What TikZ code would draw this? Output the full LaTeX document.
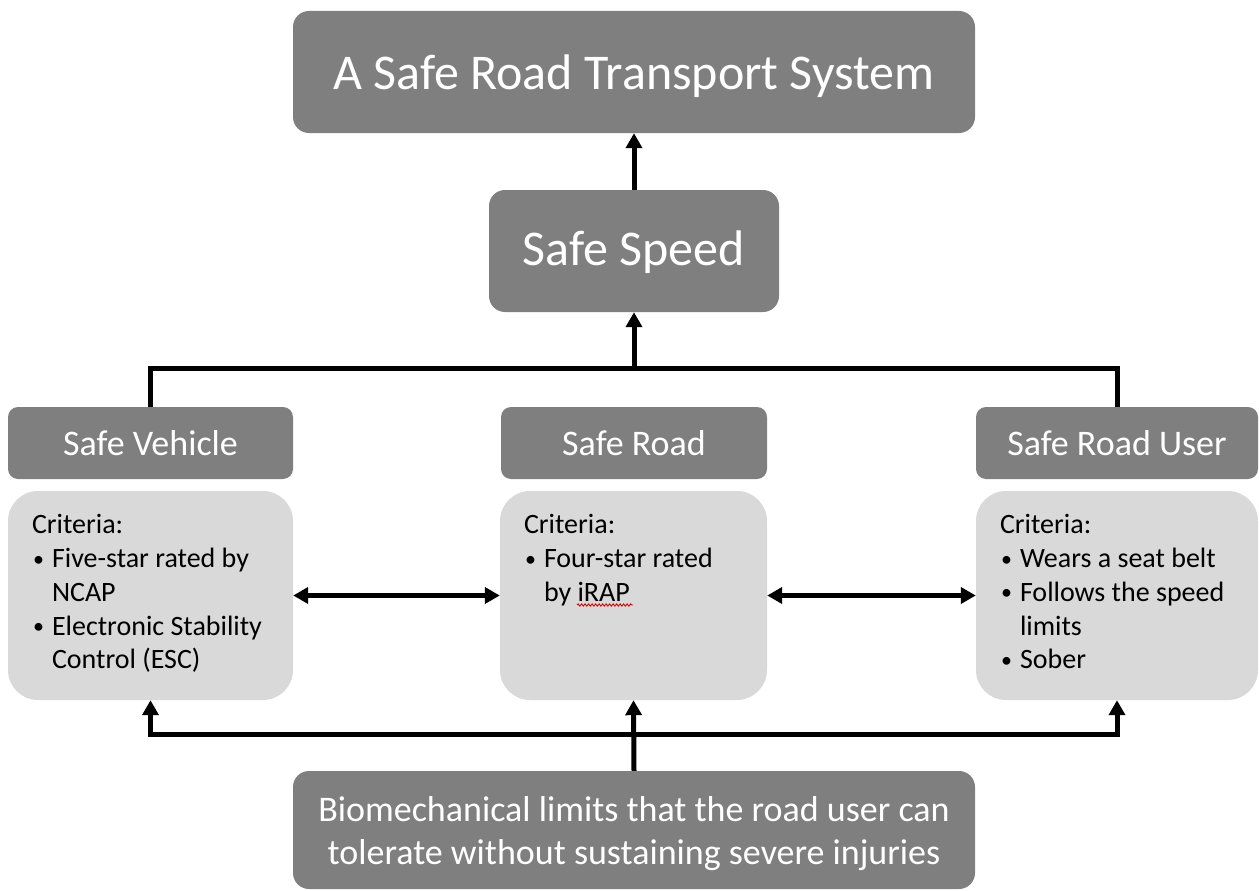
\documentclass[tikz,border=0pt]{standalone}
\usepackage{fontspec}
\setmainfont{Carlito}
\usetikzlibrary{arrows.meta,decorations.pathmorphing}
\definecolor{dk}{HTML}{7F7F7F}
\definecolor{lt}{HTML}{D9D9D9}
\newcommand{\bul}{\makebox[20pt][l]{\hspace*{1pt}\raisebox{1.5pt}{\fontsize{22}{22}\selectfont •}}}
\begin{document}
\begin{tikzpicture}[x=1pt,y=-1pt,
  bigbox/.style={fill=dk,draw=none,text=white,rounded corners=16pt,inner sep=0pt,align=center,font=\fontsize{50}{60}\selectfont},
  hdrbox/.style={fill=dk,draw=none,text=white,rounded corners=10pt,inner sep=0pt,minimum height=72pt,font=\fontsize{36}{43}\selectfont},
  critbox/.style={fill=lt,draw=none,rounded corners=30pt,inner sep=0pt,minimum height=209pt},
  crittext/.style={anchor=north west,inner sep=0pt,align=left,text=black,font=\fontsize{28}{33.7}\selectfont,xshift=24pt,yshift=-19.4pt},
  conn/.style={line width=5pt,draw=black},
  arr/.style={conn,-{Triangle[width=16pt,length=15pt]}},
  darr/.style={conn,{Triangle[width=16pt,length=15pt]}-{Triangle[width=16pt,length=15pt]}},
  squig/.style={draw=red!85!black,line width=0.9pt,decorate,decoration={snake,amplitude=1.1pt,segment length=3.5pt}}
]
\useasboundingbox (0,0) rectangle (1259,891);

\node[bigbox,minimum width=682pt,minimum height=122pt,text depth=0pt] (title) at (634,72) {A Safe Road Transport System};
\node[bigbox,minimum width=290pt,minimum height=122pt,text depth=5pt] (speed) at (634,251) {Safe Speed};

\node[hdrbox,minimum width=285pt] (hv) at (150.5,443) {Safe Vehicle};
\node[hdrbox,minimum width=266pt] (hr) at (634,443) {Safe Road};
\node[hdrbox,minimum width=282pt] (hu) at (1117,443) {Safe Road User};

\node[critbox,minimum width=285pt] (cv) at (150.5,595.5) {};
\node[critbox,minimum width=267pt] (cr) at (633.5,595.5) {};
\node[critbox,minimum width=282pt] (cu) at (1117,595.5) {};

\node[crittext] (cvt) at (cv.north west) {\strut Criteria:\\
\bul Five-star rated by\\
\hspace*{20pt}NCAP\\
\bul Electronic Stability\\
\hspace*{20pt}Control (ESC)};
\node[crittext] (crt) at (cr.north west) {\strut Criteria:\\
\bul Four-star rated\\
\hspace*{20pt}by iRAP};
\node[crittext] (cut) at (cu.north west) {\strut Criteria:\\
\bul Wears a seat belt\\
\bul Follows the speed\\
\hspace*{20pt}limits\\
\bul Sober};
\draw[squig] (577,605) -- (633,605);

\node[fill=dk,draw=none,text=white,rounded corners=16pt,inner sep=0pt,align=center,
  minimum width=682pt,minimum height=118pt,text depth=0pt,font=\fontsize{36}{43}\selectfont] (bot) at (634,830)
  {Biomechanical limits that the road user can\\tolerate without sustaining severe injuries};

\coordinate (j) at (634,368);
\coordinate (k) at (634,734);

\draw[arr] (speed.north) -- (title.south);
\draw[arr] (j) -- (speed.south);
\draw[conn] (hv.north) |- (j) -| (hu.north);

\draw[darr] (cv.east) -- (cr.west);
\draw[darr] (cr.east) -- (cu.west);

\draw[arr] (bot.north) -- (cr.south);
\draw[arr] (k) -| (cv.south);
\draw[arr] (k) -| (cu.south);
\end{tikzpicture}
\end{document}
